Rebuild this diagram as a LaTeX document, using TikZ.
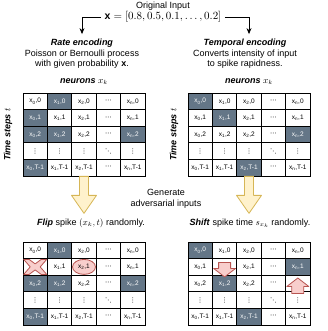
\documentclass[tikz,border=0pt]{standalone}
\usepackage{fontspec}
\setmainfont{Liberation Sans}
\newfontfamily\dotsfont{DejaVu Sans}
\usetikzlibrary{arrows.meta,shapes.geometric}

\definecolor{spikefill}{HTML}{647687}
\definecolor{flipfill}{HTML}{F8CECC}
\definecolor{flipline}{HTML}{B85450}
\definecolor{genfill}{HTML}{FFF2CC}
\definecolor{genline}{HTML}{D6B656}

\newcommand\colsub[1]{\ifcase#1 0\or 1\or 2\or \or n\fi}
\newcommand\rowsub[1]{\ifcase#1 0\or 1\or 2\or \or T-1\fi}
\newcommand\celltext[2]{\ifnum#1=3 \ifnum#2=3 {\dotsfont ⋱}\else {\dotsfont ⋯}\fi\else\ifnum#2=3 {\dotsfont ⋮}\else x\textsubscript{\colsub{#1}},\rowsub{#2}\fi\fi}
\makeatletter
\newcommand\spikegrid[5]{% name, x, y, spiking cells, cells left blank
  \foreach \c in {0,...,4}
    \foreach \r in {0,...,4}{
      \edef\grid@test{\noexpand\in@{,\c/\r,}{,#4,}}\grid@test
      \ifin@\def\cellkind{spike}\else\def\cellkind{nospike}\fi
      \edef\grid@test{\noexpand\in@{,\c/\r,}{,#5,}}\grid@test
      \ifin@\def\celllabel{}\else\def\celllabel{\celltext{\c}{\r}}\fi
      \node[cell,\cellkind] (#1-\c-\r) at (#2+\c*24.4+12.2, #3+\r*16.6+8.3) {\celllabel};
    }
}
\makeatother

\begin{document}
\begin{tikzpicture}[x=1pt,y=-1pt,
  font=\fontsize{9}{10.5}\selectfont,
  cell/.style={draw,fill=white,line width=0.7pt,minimum width=24.4pt,minimum height=16.6pt,inner sep=0pt,font=\fontsize{6.5}{7}\selectfont},
  spike/.style={fill=spikefill,text=white},
  nospike/.style={},
  desc/.style={align=center,inner sep=2pt},
  conn/.style={-{Stealth[length=6pt,width=5pt]},line width=0.8pt},
  genarrow/.style={fill=genfill,draw=genline,line width=0.8pt,line join=round},
  flipmark/.style={fill=flipfill,draw=flipline,line width=0.8pt,line join=round}]
\useasboundingbox (0,0) rectangle (328,331);

\node (orig) at (163,6) {Original Input};
\node (input) at (163,17) {\fontsize{10.5}{12}\selectfont$\mathbf{x} = [0.8, 0.5, 0.1, \ldots, 0.2]$};
\node[desc] (rate) at (82,54) {\textbf{\textit{Rate encoding}}\\Poisson or Bernoulli process\\with given probability $\mathbf{x}$.};
\node[desc] (temporal) at (245,54) {\textbf{\textit{Temporal encoding}}\\Converts intensity of input\\to spike rapidness.};
\draw[conn,shorten >=3pt] (input.west) -| (rate.north);
\draw[conn,shorten >=3pt] (input.east) -| ([xshift=4pt]temporal.north);

\node (lneurons) at (84,82) {\textbf{\textit{neurons}} $x_k$};
\node (rneurons) at (249,82) {\textbf{\textit{neurons}} $x_k$};
\node[rotate=90] (ltime) at (8,134.5) {\textbf{\textit{Time steps}} $t$};
\node[rotate=90] (rtime) at (174,134.5) {\textbf{\textit{Time steps}} $t$};

\spikegrid{tl}{23}{93}{1/0,0/1,0/2,1/2,4/2,0/4}{}
\spikegrid{tr}{188}{93}{0/0,1/1,4/2,2/4}{}

\draw[genarrow,shift={(tl-2-4.south)}] (-4.5,0) -- (-4.5,19) -- (-12.5,19) -- (0,37) -- (12.5,19) -- (4.5,19) -- (4.5,0) -- cycle;
\draw[genarrow,shift={(tr-2-4.south)}] (-4.5,0) -- (-4.5,19) -- (-12.5,19) -- (0,37) -- (12.5,19) -- (4.5,19) -- (4.5,0) -- cycle;
\node[desc] (generate) at (166,199) {Generate\\adversarial inputs};

\node (flip) at (91,223) {\textbf{\textit{Flip}} spike $(x_k, t)$ randomly.};
\node (shift) at (250,223) {\textbf{\textit{Shift}} spike time $s_{x_k}$ randomly.};

\spikegrid{bl}{23}{242}{1/0,0/2,1/2,4/2,0/4}{0/1,2/1}
\spikegrid{br}{188}{242}{0/0,4/1,1/2,2/4}{1/1,4/2}

\draw[flipmark,shift={(bl-0-1)}] (-11.5,-7.5) -- (-6,-7.5) -- (0,-3) -- (6,-7.5) -- (11.5,-7.5) -- (5,0) -- (11.5,7.5) -- (6,7.5) -- (0,3) -- (-6,7.5) -- (-11.5,7.5) -- (-5,0) -- cycle;
\node[flipmark,ellipse,minimum width=23pt,minimum height=15pt,inner sep=0pt,font=\fontsize{6.5}{7}\selectfont] at (bl-2-1) {\celltext{2}{1}};

\draw[flipmark,shift={(br-1-1)}] (-6,-4.5) -- (6,-4.5) -- (6,1.5) -- (11,1.5) -- (0,10) -- (-11,1.5) -- (-6,1.5) -- cycle;
\draw[flipmark,shift={(br-4-2)}] (-6,10) -- (6,10) -- (6,3) -- (11,3) -- (0,-5.5) -- (-11,3) -- (-6,3) -- cycle;
\end{tikzpicture}
\end{document}
